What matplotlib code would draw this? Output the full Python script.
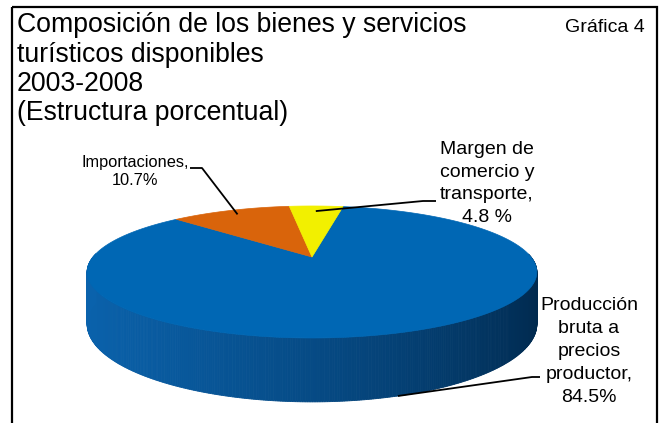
import numpy as np
import matplotlib
matplotlib.use("Agg")
import matplotlib.pyplot as plt
from matplotlib.patches import Polygon, Rectangle
from matplotlib.colors import LinearSegmentedColormap

# ---------------- data ----------------
categories = ["Producción bruta a precios productor", "Importaciones",
              "Margen de comercio y transporte"]
values = [84.5, 10.7, 4.8]
label_texts = ["Producción\nbruta a\nprecios\nproductor,\n84.5%",
               "Importaciones,\n10.7%",
               "Margen de\ncomercio y\ntransporte,\n4.8 %"]
title_lines = ["Composición de los bienes y servicios", "turísticos disponibles",
               "2003-2008", "(Estructura porcentual)"]
chart_tag = "Gráfica 4"

# ---------------- styles ----------------
top_colors = ["#0067B4", "#D9640B", "#F2F000"]
side_light = ["#0A62AC", "#B04F06", "#C8C400"]
side_dark = ["#00284C", "#5A2800", "#6A6800"]
FONT = ["Liberation Sans", "DejaVu Sans"]
plt.rcParams["font.family"] = FONT

W, H = 660, 423
fig = plt.figure(figsize=(W / 100, H / 100), dpi=100)
ax = fig.add_axes([0, 0, 1, 1])
ax.set_xlim(0, W)
ax.set_ylim(H, 0)
ax.axis("off")

# pie geometry (perspective 3D pie)
cx, cy = 312, 257
a, b, k, depth = 219, 62.6, 0.227, 49.4
start_deg = 10.0  # clockwise from 12 o'clock


def proj(theta_deg, r=1.0, z=0.0):
    t = np.radians(theta_deg)
    X = r * np.sin(t)
    Y = r * np.cos(t)
    w = 1 + k * Y
    return cx + a * X / w, cy - b * Y / w + z * depth / w


fracs = np.array(values) / np.sum(values)
bounds = start_deg + 360 * np.concatenate([[0], np.cumsum(fracs)])

# side walls
for i in range(len(values)):
    th = np.linspace(bounds[i], bounds[i + 1], max(int((bounds[i + 1] - bounds[i]) * 2), 3))
    cmap = LinearSegmentedColormap.from_list("s", [side_light[i], side_dark[i]])
    for t0, t1 in zip(th[:-1], th[1:]):
        tm = 0.5 * (t0 + t1)
        if np.cos(np.radians(tm)) > 0.05:
            continue
        xs = np.sin(np.radians(tm))
        col = cmap(np.clip((xs + 1) / 2, 0, 1) ** 1.3)
        pts = [proj(t0), proj(t1), proj(t1, z=1), proj(t0, z=1)]
        ax.add_patch(Polygon(pts, closed=True, facecolor=col, edgecolor=col, lw=0.6))

# top face
for i in range(len(values)):
    th = np.linspace(bounds[i], bounds[i + 1], 200)
    pts = [(cx, cy)] + [proj(t) for t in th]
    ax.add_patch(Polygon(pts, closed=True, facecolor=top_colors[i],
                         edgecolor=top_colors[i], lw=0.5))

mids = 0.5 * (bounds[:-1] + bounds[1:])

# labels: (text center x, first baseline y, line spacing, font size, elbow, end)
label_style = [
    dict(x=589, y=310, dy=23, fs=14, anchor=dict(r=1.0, z=1.0),
         path=[(532, 377), (540, 377)]),
    dict(x=135, y=167, dy=18, fs=11.8, anchor=dict(r=0.9, z=0.0),
         path=[(202, 168), (190, 168)]),
    dict(x=487, y=154, dy=22.7, fs=14, anchor=dict(r=0.88, z=0.0),
         path=[(423, 201), (436, 201)]),
]
for i, st in enumerate(label_style):
    for j, line in enumerate(label_texts[i].split("\n")):
        ax.text(st["x"], st["y"] + j * st["dy"], line, ha="center", va="baseline",
                fontsize=st["fs"], color="black")
    ax0 = proj(mids[i], **st["anchor"])
    px = [ax0[0]] + [p[0] for p in st["path"]]
    py = [ax0[1]] + [p[1] for p in st["path"]]
    ax.plot(px, py, color="black", lw=1.3, solid_capstyle="butt")

# title
for j, line in enumerate(title_lines):
    ax.text(17, 32 + j * 29.5, line, ha="left", va="baseline", fontsize=19.2, color="black")
ax.text(645, 32, chart_tag, ha="right", va="baseline", fontsize=14, color="black")

# frame
ax.add_patch(Rectangle((12, 7), 645, 440, fill=False, edgecolor="black", lw=1.6,
                       clip_on=True))

fig.savefig("out.png", dpi=100)
